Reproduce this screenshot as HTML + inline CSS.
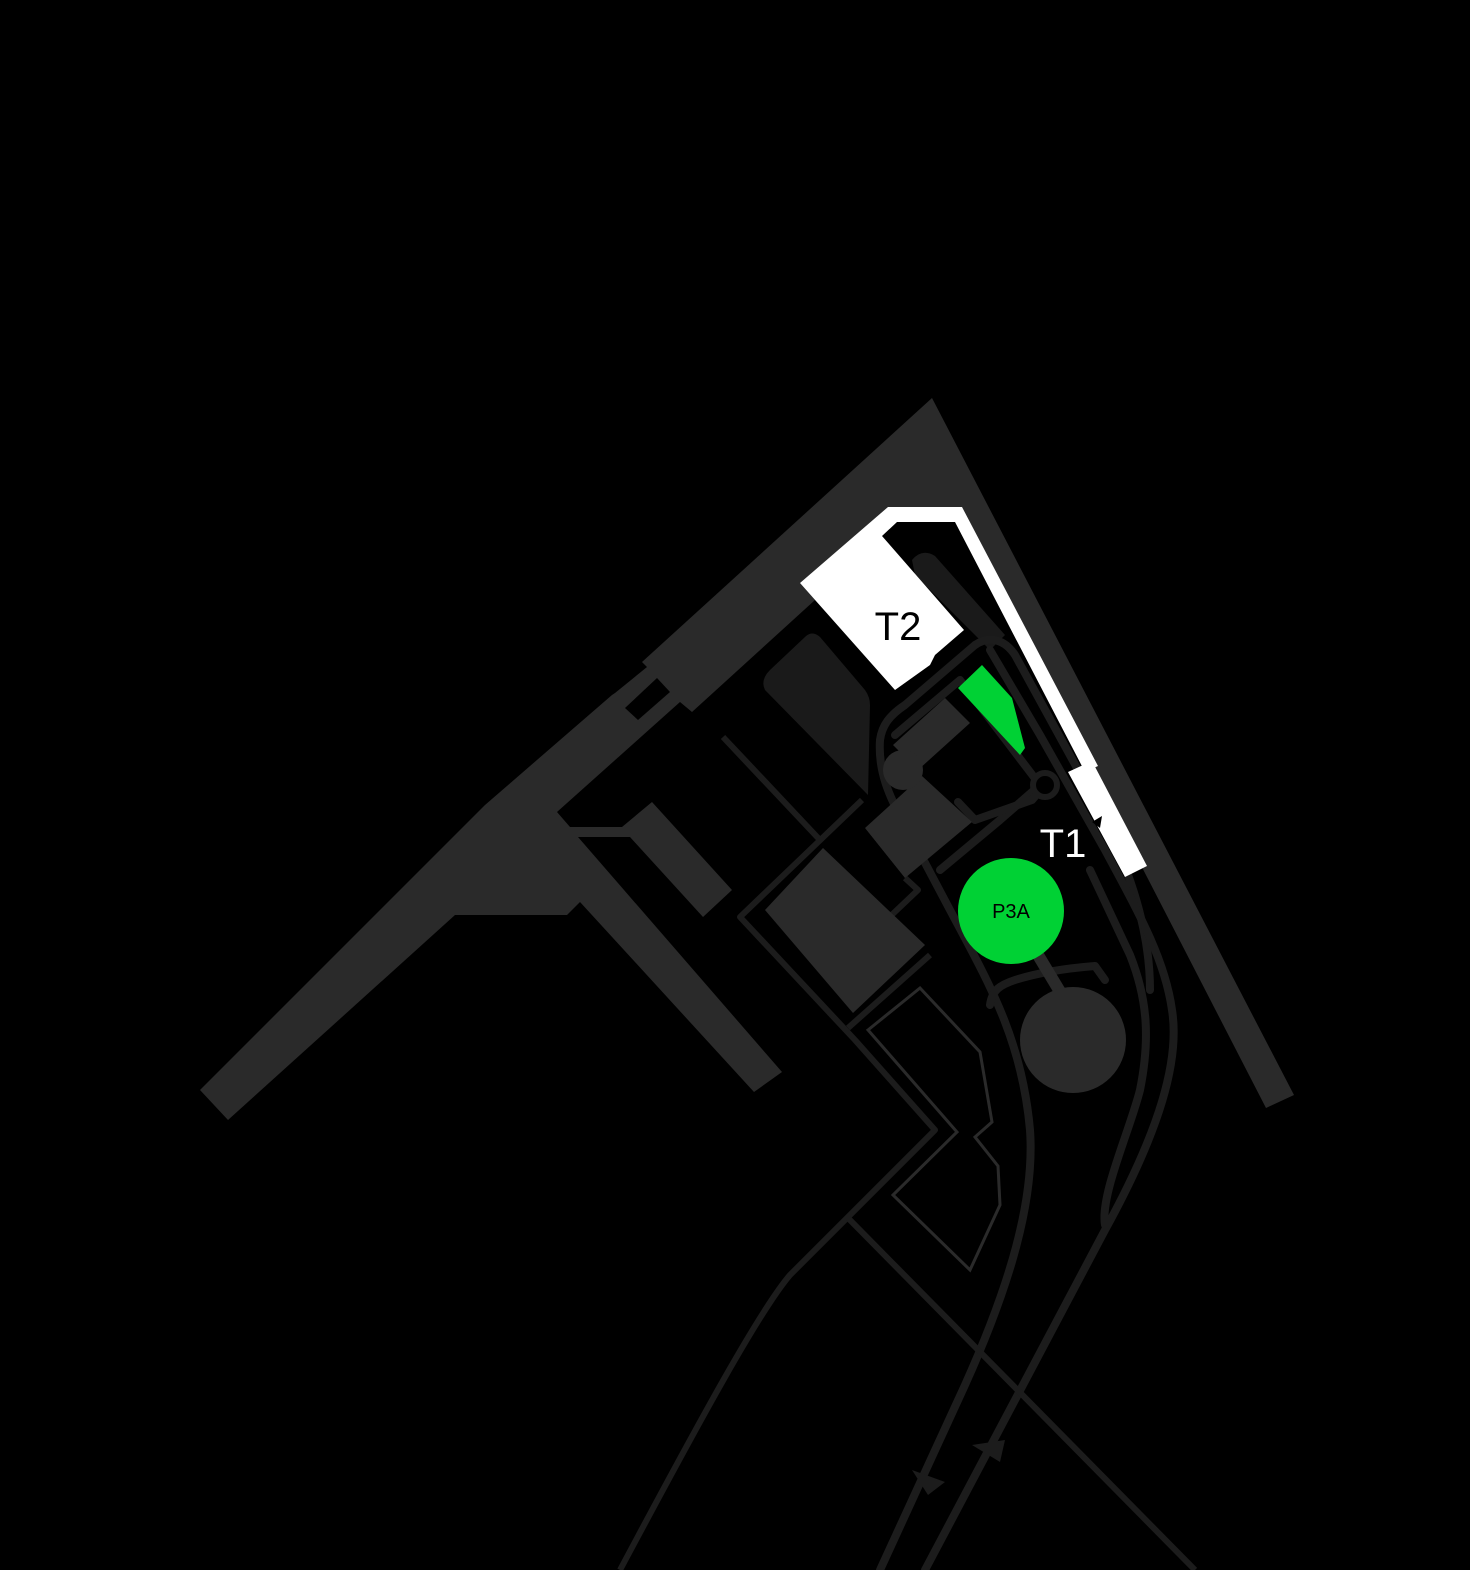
<!DOCTYPE html>
<html><head><meta charset="utf-8"><style>html,body{margin:0;padding:0;background:#000;}svg{display:block}</style></head>
<body>
<svg width="1470" height="1570" viewBox="0 0 1470 1570" xmlns="http://www.w3.org/2000/svg">
<rect width="1470" height="1570" fill="#000"/>
<polygon fill="#2a2a2a" points="932,398 1294,1095 1266,1108 958,510 885,510 800,583 815,600 692,712 680,702 557,812 570,827 622,827 652,802 732,890 703,917 630,837 578,837 782,1072 754,1092 580,902 567,915 455,915 228,1120 200,1090 485,805 612,695 615,693 647,667 642,662"/>
<polygon fill="#000" points="625,708 657,678 670,692 638,720"/>
<path fill="#1a1a1a" d="M770,670 L805,637 Q812,630 820,637 L865,690 Q870,697 870,705 L868,795 L765,690 Q760,680 770,670 Z"/>
<path fill="#1a1a1a" d="M912,560 Q922,548 935,556 L1005,635 L990,650 L915,575 Z"/>
<g fill="none" stroke="#1c1c1c" stroke-width="8" stroke-linejoin="round" stroke-linecap="round">
<path d="M880,1570 L965,1385 C1010,1285 1035,1200 1030,1130 C1022,1040 990,985 950,910 L905,825 C888,795 878,770 880,740 C882,725 890,715 905,705 L975,645 C990,635 1005,640 1015,655 L1100,810 C1130,870 1150,930 1150,990"/>
<path d="M925,1570 L1105,1230 C1160,1130 1180,1060 1172,1010 C1165,960 1140,915 1105,850 L1040,735 L990,650"/>
<path d="M1105,1225 C1100,1195 1130,1130 1140,1090 C1150,1040 1148,1000 1130,955 L1090,870"/>
<path d="M895,735 L960,680 L1040,785 L1000,820 L940,870"/>
<path d="M958,802 L975,820 L1032,800 L1045,785"/>
<path d="M990,1005 C992,990 1000,985 1015,980 C1040,972 1070,968 1095,966 L1105,980"/>
</g>
<circle cx="1045" cy="785" r="12" fill="#000" stroke="#1c1c1c" stroke-width="6"/>
<g fill="none" stroke="#1c1c1c" stroke-width="6" stroke-linejoin="round">
<path d="M723,737 L820,840"/>
<path d="M862,800 L740,917 L855,1040 L935,1130 L850,1215 L790,1275 C760,1310 700,1420 620,1570"/>
<path d="M848,1218 L1195,1570"/>
<path d="M905,878 L918,890 L860,945 L850,960"/>
<path d="M848,1028 L930,955"/>
</g>
<polygon fill="none" stroke="#2a2a2a" stroke-width="3" points="868,1030 920,988 980,1052 992,1122 975,1137 998,1166 1000,1205 970,1270 893,1195 957,1132"/>
<polygon fill="#2a2a2a" points="765,910 823,848 925,945 853,1013"/>
<polygon fill="#2a2a2a" points="865,828 922,776 972,822 905,878"/>
<polygon fill="#2a2a2a" points="893,745 945,698 970,723 918,770"/>
<circle cx="903" cy="770" r="20" fill="#2a2a2a"/>
<line x1="1035" y1="950" x2="1062" y2="995" stroke="#2a2a2a" stroke-width="12"/>
<circle cx="1073" cy="1040" r="53" fill="#2a2a2a"/>
<polygon fill="#1c1c1c" points="912,1470 945,1482 928,1495"/>
<polygon fill="#1c1c1c" points="972,1445 1005,1440 1000,1462"/>
<polygon fill="#fff" points="800,583 888,507 962,507 1098,766 1085,772 955,522 897,522 882,536 964,630 935,655 930,665 895,690"/>
<polygon fill="#fff" points="1068,772 1092,761 1147,866 1125,877"/>
<polygon fill="#000" points="1092,822 1102,816 1100,828"/>
<polygon fill="#00d134" points="958,688 982,665 1012,698 1025,748 1020,755"/>
<circle cx="1011" cy="911" r="53" fill="#00d134"/>
<text x="898" y="640" font-family="Liberation Sans, sans-serif" font-size="40" fill="#000" text-anchor="middle">T2</text>
<text x="1063" y="857" font-family="Liberation Sans, sans-serif" font-size="40" fill="#fff" text-anchor="middle">T1</text>
<text x="1011" y="918" font-family="Liberation Sans, sans-serif" font-size="20" fill="#000" text-anchor="middle">P3A</text>
</svg>
</body></html>
